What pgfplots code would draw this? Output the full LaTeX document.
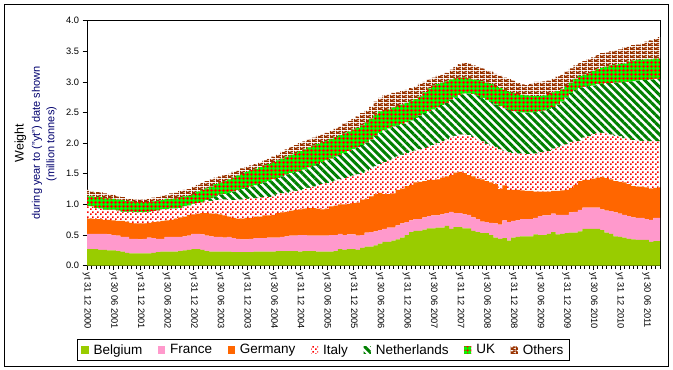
\documentclass[border=0pt]{standalone}
\usepackage{pgfplots}
\pgfplotsset{compat=1.18}
\usepackage{pgfplotstable}
\usepackage{fontspec}
\setmainfont{Liberation Sans}
\usetikzlibrary{patterns,patterns.meta}

\definecolor{belg}{RGB}{153,204,0}
\definecolor{fran}{RGB}{255,153,204}
\definecolor{germ}{RGB}{255,102,0}
\definecolor{ital}{RGB}{255,0,0}
\definecolor{nlgr}{RGB}{0,128,0}
\definecolor{ukgr}{RGB}{0,255,0}
\definecolor{ukred}{RGB}{255,0,0}
\definecolor{othb}{RGB}{153,51,0}
\definecolor{navytxt}{RGB}{0,0,110}

\tikzdeclarepattern{
  name=italdots, type=uncolored,
  bounding box={(0pt,0pt) and (5pt,5pt)},
  tile size={(5pt,5pt)},
  code={
    \pgfpathrectangle{\pgfpoint{0pt}{0pt}}{\pgfpoint{1.8pt}{1.8pt}}
    \pgfpathrectangle{\pgfpoint{2.5pt}{2.5pt}}{\pgfpoint{1.8pt}{1.8pt}}
    \pgfusepath{fill}
  }
}
\tikzdeclarepattern{
  name=bricks, type=uncolored,
  bounding box={(0pt,0pt) and (6pt,4pt)},
  tile size={(6pt,4pt)},
  code={
    \pgfpathrectangle{\pgfpoint{0pt}{0pt}}{\pgfpoint{6pt}{1.05pt}}
    \pgfpathrectangle{\pgfpoint{0pt}{1pt}}{\pgfpoint{4pt}{1.05pt}}
    \pgfpathrectangle{\pgfpoint{0pt}{2pt}}{\pgfpoint{6pt}{1.05pt}}
    \pgfpathrectangle{\pgfpoint{3pt}{3pt}}{\pgfpoint{3pt}{1pt}}
    \pgfpathrectangle{\pgfpoint{0pt}{3pt}}{\pgfpoint{1pt}{1pt}}
    \pgfusepath{fill}
  }
}

% month index m = 0 is year to 31 12 2000; values in million tonnes
\pgfplotstableread{
m Belgium France Germany Italy Netherlands UK Others
0 0.27 0.25 0.25 0.20 0.00 0.16 0.11
1 0.27 0.25 0.25 0.20 0.00 0.16 0.08
2 0.27 0.25 0.24 0.18 0.00 0.18 0.08
3 0.26 0.26 0.24 0.17 0.00 0.19 0.08
4 0.26 0.26 0.23 0.16 0.00 0.19 0.08
5 0.25 0.26 0.24 0.16 0.00 0.19 0.07
6 0.25 0.25 0.24 0.17 0.00 0.18 0.07
7 0.24 0.25 0.24 0.17 0.00 0.18 0.05
8 0.23 0.24 0.26 0.15 0.00 0.19 0.05
9 0.21 0.26 0.25 0.16 0.00 0.18 0.04
10 0.20 0.24 0.26 0.18 0.00 0.17 0.04
11 0.20 0.24 0.25 0.18 0.00 0.17 0.04
12 0.20 0.23 0.26 0.18 0.00 0.17 0.04
13 0.20 0.24 0.25 0.18 0.00 0.17 0.04
14 0.20 0.26 0.24 0.18 0.00 0.16 0.05
15 0.21 0.24 0.26 0.18 0.00 0.16 0.06
16 0.22 0.22 0.28 0.18 0.00 0.16 0.06
17 0.23 0.21 0.29 0.19 0.00 0.15 0.07
18 0.23 0.24 0.27 0.18 0.00 0.17 0.06
19 0.23 0.24 0.28 0.18 0.00 0.16 0.09
20 0.23 0.24 0.30 0.16 0.00 0.17 0.09
21 0.24 0.23 0.32 0.15 0.00 0.18 0.10
22 0.25 0.23 0.32 0.17 0.00 0.16 0.11
23 0.26 0.23 0.34 0.15 0.00 0.16 0.11
24 0.27 0.25 0.32 0.17 0.00 0.16 0.12
25 0.27 0.25 0.33 0.17 0.00 0.19 0.11
26 0.26 0.25 0.35 0.17 0.00 0.21 0.11
27 0.24 0.25 0.37 0.19 0.02 0.19 0.12
28 0.23 0.25 0.37 0.21 0.04 0.19 0.12
29 0.23 0.24 0.38 0.22 0.06 0.20 0.11
30 0.23 0.24 0.37 0.24 0.08 0.20 0.10
31 0.23 0.23 0.36 0.26 0.09 0.21 0.10
32 0.23 0.24 0.33 0.27 0.12 0.22 0.09
33 0.22 0.23 0.33 0.29 0.14 0.23 0.09
34 0.22 0.22 0.33 0.31 0.15 0.24 0.09
35 0.22 0.21 0.34 0.31 0.17 0.25 0.09
36 0.22 0.21 0.35 0.31 0.18 0.26 0.09
37 0.22 0.22 0.34 0.32 0.19 0.27 0.08
38 0.23 0.22 0.35 0.30 0.21 0.27 0.08
39 0.23 0.22 0.35 0.31 0.22 0.28 0.08
40 0.23 0.22 0.37 0.30 0.24 0.28 0.08
41 0.23 0.23 0.36 0.30 0.26 0.28 0.09
42 0.23 0.23 0.37 0.30 0.28 0.28 0.09
43 0.24 0.22 0.40 0.31 0.26 0.29 0.10
44 0.24 0.23 0.40 0.31 0.28 0.29 0.11
45 0.24 0.24 0.40 0.31 0.30 0.29 0.12
46 0.24 0.25 0.41 0.31 0.30 0.30 0.13
47 0.24 0.25 0.42 0.31 0.31 0.31 0.13
48 0.23 0.27 0.42 0.31 0.32 0.32 0.13
49 0.24 0.26 0.43 0.32 0.32 0.33 0.13
50 0.24 0.25 0.45 0.33 0.33 0.33 0.13
51 0.24 0.25 0.45 0.35 0.34 0.33 0.13
52 0.23 0.26 0.44 0.38 0.35 0.33 0.13
53 0.23 0.26 0.43 0.41 0.36 0.33 0.13
54 0.23 0.26 0.44 0.42 0.37 0.32 0.13
55 0.23 0.27 0.47 0.40 0.38 0.32 0.13
56 0.24 0.26 0.48 0.41 0.39 0.32 0.14
57 0.27 0.25 0.48 0.41 0.40 0.32 0.15
58 0.26 0.24 0.50 0.43 0.41 0.32 0.16
59 0.27 0.24 0.50 0.44 0.42 0.32 0.17
60 0.27 0.24 0.51 0.45 0.43 0.32 0.18
61 0.26 0.23 0.54 0.46 0.44 0.32 0.19
62 0.29 0.21 0.58 0.43 0.46 0.32 0.20
63 0.31 0.23 0.55 0.45 0.47 0.33 0.20
64 0.31 0.24 0.58 0.45 0.48 0.34 0.20
65 0.33 0.23 0.61 0.45 0.50 0.35 0.21
66 0.36 0.22 0.61 0.47 0.51 0.35 0.22
67 0.39 0.21 0.57 0.52 0.52 0.33 0.24
68 0.39 0.23 0.55 0.55 0.52 0.31 0.25
69 0.41 0.21 0.56 0.57 0.52 0.31 0.24
70 0.43 0.23 0.58 0.54 0.51 0.32 0.22
71 0.46 0.23 0.57 0.55 0.50 0.32 0.22
72 0.50 0.21 0.59 0.54 0.50 0.32 0.21
73 0.55 0.19 0.58 0.54 0.51 0.32 0.21
74 0.57 0.19 0.60 0.52 0.53 0.31 0.21
75 0.57 0.19 0.61 0.53 0.55 0.31 0.21
76 0.59 0.20 0.59 0.54 0.57 0.34 0.17
77 0.61 0.20 0.59 0.54 0.58 0.37 0.15
78 0.61 0.21 0.58 0.57 0.58 0.39 0.13
79 0.62 0.20 0.59 0.59 0.58 0.39 0.13
80 0.62 0.22 0.60 0.59 0.59 0.37 0.13
81 0.65 0.21 0.60 0.60 0.60 0.35 0.14
82 0.60 0.28 0.60 0.61 0.62 0.33 0.16
83 0.63 0.23 0.66 0.60 0.63 0.31 0.19
84 0.63 0.23 0.67 0.61 0.65 0.28 0.22
85 0.61 0.23 0.67 0.63 0.67 0.26 0.24
86 0.61 0.22 0.65 0.65 0.68 0.25 0.24
87 0.57 0.22 0.67 0.64 0.70 0.24 0.23
88 0.55 0.21 0.66 0.64 0.71 0.26 0.22
89 0.53 0.19 0.69 0.62 0.71 0.27 0.21
90 0.53 0.18 0.67 0.61 0.71 0.29 0.20
91 0.50 0.20 0.66 0.60 0.71 0.30 0.20
92 0.46 0.23 0.64 0.60 0.70 0.30 0.20
93 0.44 0.23 0.58 0.65 0.70 0.30 0.20
94 0.45 0.29 0.57 0.56 0.70 0.30 0.20
95 0.41 0.30 0.53 0.61 0.69 0.30 0.21
96 0.46 0.27 0.51 0.60 0.68 0.30 0.20
97 0.47 0.27 0.50 0.59 0.68 0.29 0.18
98 0.48 0.28 0.47 0.60 0.67 0.29 0.17
99 0.48 0.28 0.46 0.60 0.68 0.28 0.17
100 0.48 0.28 0.46 0.60 0.68 0.27 0.20
101 0.51 0.27 0.43 0.62 0.68 0.26 0.23
102 0.50 0.31 0.40 0.64 0.67 0.25 0.23
103 0.50 0.32 0.39 0.65 0.67 0.25 0.23
104 0.52 0.30 0.39 0.66 0.69 0.24 0.22
105 0.55 0.30 0.37 0.69 0.68 0.24 0.23
106 0.51 0.32 0.39 0.71 0.70 0.22 0.24
107 0.52 0.31 0.40 0.73 0.72 0.20 0.24
108 0.53 0.30 0.41 0.74 0.77 0.18 0.24
109 0.54 0.33 0.40 0.75 0.80 0.17 0.23
110 0.54 0.34 0.44 0.71 0.84 0.18 0.22
111 0.56 0.35 0.47 0.66 0.86 0.20 0.21
112 0.60 0.35 0.45 0.69 0.83 0.20 0.22
113 0.60 0.35 0.45 0.71 0.82 0.21 0.23
114 0.60 0.35 0.47 0.73 0.79 0.24 0.22
115 0.60 0.35 0.49 0.72 0.80 0.25 0.23
116 0.58 0.34 0.53 0.72 0.80 0.26 0.24
117 0.54 0.36 0.53 0.73 0.82 0.27 0.23
118 0.52 0.37 0.52 0.73 0.84 0.29 0.23
119 0.48 0.39 0.51 0.74 0.87 0.29 0.24
120 0.47 0.38 0.52 0.74 0.88 0.30 0.24
121 0.46 0.37 0.53 0.72 0.92 0.30 0.26
122 0.44 0.37 0.52 0.74 0.93 0.33 0.25
123 0.43 0.36 0.51 0.75 0.96 0.34 0.25
124 0.42 0.36 0.51 0.75 0.98 0.34 0.25
125 0.42 0.36 0.51 0.75 0.99 0.33 0.26
126 0.42 0.34 0.52 0.76 0.99 0.34 0.29
127 0.39 0.36 0.51 0.77 1.01 0.33 0.31
128 0.40 0.38 0.49 0.76 1.02 0.33 0.32
129 0.40 0.38 0.50 0.75 1.02 0.33 0.35
}\weights

\begin{document}
\begin{tikzpicture}
\useasboundingbox (0pt,0pt) rectangle (673pt,370pt);
\draw[line width=0.9pt] (4pt,4pt) rectangle (668pt,366pt);
\begin{axis}[
  at={(87pt,104.3pt)}, anchor=south west,
  scale only axis, width=573pt, height=245pt,
  xmin=0, xmax=129, ymin=0, ymax=4,
  stack plots=y,
  axis line style={line width=0.9pt},
  every tick/.style={black, line width=0.7pt},
  tick align=outside,
  xtick pos=bottom, ytick pos=left,
  major tick length=4.5pt, minor tick length=3pt,
  xtick={0,6,...,126},
  minor xtick={0,1,...,129},
  xticklabels={yt 31 12 2000,yt 30 06 2001,yt 31 12 2001,yt 30 06 2002,yt 31 12 2002,yt 30 06 2003,yt 31 12 2003,yt 30 06 2004,yt 31 12 2004,yt 30 06 2005,yt 31 12 2005,yt 30 06 2006,yt 31 12 2006,yt 30 06 2007,yt 31 12 2007,yt 30 06 2008,yt 31 12 2008,yt 30 06 2009,yt 31 12 2009,yt 30 06 2010,yt 31 12 2010,yt 30 06 2011},
  xticklabel style={rotate=-90, anchor=west, font=\fontsize{9.3}{11}\selectfont, inner sep=2pt},
  ytick={0,0.5,...,4},
  yticklabel style={font=\fontsize{9.3}{11}\selectfont, /pgf/number format/.cd, fixed, fixed zerofill, precision=1},
  /pgf/number format/assume math mode=true,
  legend columns=7,
  legend cell align=left,
  legend style={at={(-0.0175,-0.299)}, anchor=north west, draw=black, line width=0.7pt,
    font=\fontsize{13.5}{15}\selectfont, inner xsep=4pt, inner ysep=3pt,
    /tikz/every odd column/.append style={column sep=3pt},
    /tikz/every even column/.append style={column sep=13.6pt}},
  legend image code/.code={\fill[#1, draw=none] (0pt,-3.6pt) rectangle (7.2pt,3.6pt);},
  const plot mark mid,
]
\addplot[draw=none, fill=belg] table[x=m, y=Belgium] {\weights} \closedcycle;
\addlegendentry{Belgium}
\addplot[draw=none, fill=fran] table[x=m, y=France] {\weights} \closedcycle;
\addlegendentry{France}
\addplot[draw=none, fill=germ] table[x=m, y=Germany] {\weights} \closedcycle;
\addlegendentry{Germany}
\addplot[draw=none, preaction={fill=white}, pattern=italdots, pattern color=ital] table[x=m, y=Italy] {\weights} \closedcycle;
\addlegendentry{Italy}
\addplot[draw=none, preaction={fill=white}, pattern={Lines[angle=-45, distance=5.6pt, line width=3pt]}, pattern color=nlgr] table[x=m, y=Netherlands] {\weights} \closedcycle;
\addlegendentry{Netherlands}
\addplot[draw=none, preaction={fill=ukgr}, pattern={Hatch[angle=0, distance=4pt, line width=1pt]}, pattern color=ukred] table[x=m, y=UK] {\weights} \closedcycle;
\addlegendentry{UK}
\addplot[draw=none, preaction={fill=white}, pattern=bricks, pattern color=othb] table[x=m, y=Others] {\weights} \closedcycle;
\addlegendentry{Others}
\end{axis}
\node[rotate=90, font=\fontsize{12.5}{15}\selectfont] at (20.5pt,227pt) {Weight};
\node[rotate=90, text=navytxt, font=\fontsize{11}{13}\selectfont] at (37pt,227pt) {during year to ("yt") date shown};
\node[rotate=90, text=navytxt, font=\fontsize{11}{13}\selectfont] at (51.5pt,226pt) {(million tonnes)};
\end{tikzpicture}
\end{document}
